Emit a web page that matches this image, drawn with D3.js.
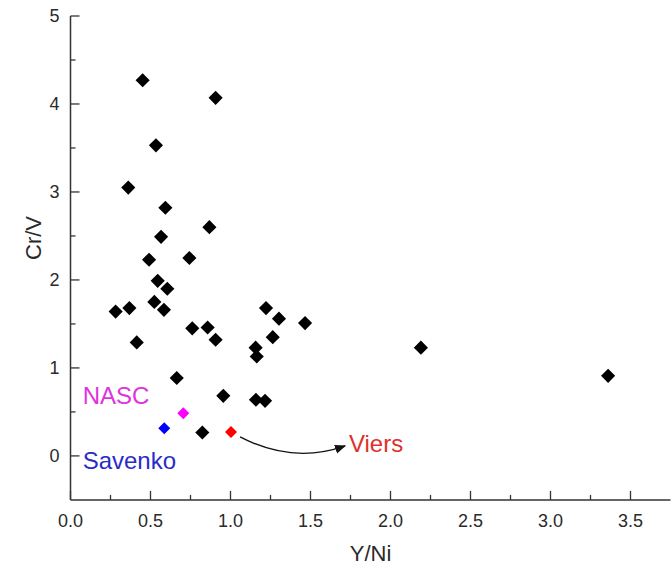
<!DOCTYPE html>
<html>
<head>
<meta charset="utf-8">
<script src="https://cdn.jsdelivr.net/npm/d3@7"></script>
<style>
  html, body { margin: 0; padding: 0; background: #fff; }
  svg { display: block; font-family: "Liberation Sans", Arial, sans-serif; }
</style>
</head>
<body>
<svg id="chart" width="671" height="572"></svg>
<script>
// ---- data ----
const sampleYNi = [0.451, 0.907, 0.534, 0.361, 0.593, 0.868, 0.566, 0.491, 0.743, 0.545,
                   0.605, 0.524, 0.584, 0.282, 0.368, 0.414, 0.761, 0.857, 0.907, 1.222,
                   1.303, 1.466, 1.264, 1.157, 1.164, 0.664, 0.955, 1.159, 1.216, 0.824,
                   2.19, 3.36];
const sampleCrV = [4.27, 4.07, 3.53, 3.05, 2.82, 2.60, 2.49, 2.23, 2.25, 1.99,
                   1.90, 1.75, 1.66, 1.64, 1.68, 1.29, 1.45, 1.46, 1.32, 1.68,
                   1.56, 1.51, 1.35, 1.23, 1.13, 0.885, 0.683, 0.638, 0.626, 0.266,
                   1.23, 0.91];
const refNames = ["NASC", "Savenko", "Viers"];
const refYNi = [0.705, 0.586, 1.003];
const refCrV = [0.486, 0.315, 0.273];
const refColors = ["#ff00ff", "#0000ff", "#ff0000"];
const refTextColors = ["#e033e0", "#2b2bc8", "#e0302c"];
const xTicks = [0, 0.5, 1.0, 1.5, 2.0, 2.5, 3.0, 3.5];
const yTicks = [0, 1, 2, 3, 4, 5];
const xLabel = "Y/Ni";
const yLabel = "Cr/V";

// ---- layout ----
const svg = d3.select("#chart");
const x = d3.scaleLinear().domain([0, 3.75]).range([70.5, 670.5]);
const y = d3.scaleLinear().domain([-0.5, 5]).range([499.9, 16]);

const mainPts = sampleYNi.map((v, i) => ({x: v, y: sampleCrV[i]}));

const axisColor = "#333";

// x axis
const gx = svg.append("g").attr("transform", `translate(0,${y(-0.5)})`);
gx.append("line").attr("x1", x(0)).attr("x2", x(3.75)).attr("stroke", axisColor).attr("stroke-width", 1.5);
const xMinor = d3.range(0.25, 3.75, 0.5);
gx.selectAll(".xmaj").data(xTicks).join("line")
  .attr("x1", d => x(d)).attr("x2", d => x(d)).attr("y1", 0).attr("y2", -9)
  .attr("stroke", axisColor).attr("stroke-width", 1.3);
gx.selectAll(".xmin").data(xMinor).join("line")
  .attr("x1", d => x(d)).attr("x2", d => x(d)).attr("y1", 0).attr("y2", -5)
  .attr("stroke", axisColor).attr("stroke-width", 1.3);
gx.selectAll("text").data(xTicks).join("text")
  .attr("x", d => x(d)).attr("y", 27).attr("text-anchor", "middle")
  .attr("font-size", 18).attr("fill", "#2a2a2a").text(d => d3.format(".1f")(d));

// y axis
const gy = svg.append("g").attr("transform", `translate(${x(0)},0)`);
gy.append("line").attr("y1", y(-0.5)).attr("y2", y(5)).attr("stroke", axisColor).attr("stroke-width", 1.5);
const yMinor = d3.range(-0.5, 5, 1).filter(d => d > -0.5);
gy.selectAll(".ymaj").data(yTicks).join("line")
  .attr("y1", d => y(d)).attr("y2", d => y(d)).attr("x1", 0).attr("x2", 9)
  .attr("stroke", axisColor).attr("stroke-width", 1.3);
gy.selectAll(".ymin").data(yMinor).join("line")
  .attr("y1", d => y(d)).attr("y2", d => y(d)).attr("x1", 0).attr("x2", 5)
  .attr("stroke", axisColor).attr("stroke-width", 1.3);
gy.selectAll("text").data(yTicks).join("text")
  .attr("x", -11).attr("y", d => y(d)).attr("dy", "0.35em").attr("text-anchor", "end")
  .attr("font-size", 18).attr("fill", "#2a2a2a").text(d => d);

// axis titles
svg.append("text").attr("x", (x(0) + x(3.75)) / 2).attr("y", 561).attr("text-anchor", "middle")
  .attr("font-size", 22).attr("fill", "#2a2a2a").text(xLabel);
svg.append("text").attr("transform", `translate(41,238) rotate(-90)`)
  .attr("text-anchor", "middle").attr("font-size", 22).attr("fill", "#2a2a2a").text(yLabel);

// markers
const diamond = (size) => d3.symbol().type(d3.symbolSquare).size(size)();
svg.append("g").selectAll("path").data(mainPts).join("path")
  .attr("d", diamond(100))
  .attr("transform", d => `translate(${x(d.x)},${y(d.y)}) rotate(45)`)
  .attr("fill", "#000");

svg.append("g").selectAll("path").data(refNames).join("path")
  .attr("d", diamond(72))
  .attr("transform", (d, i) => `translate(${x(refYNi[i])},${y(refCrV[i])}) rotate(45)`)
  .attr("fill", (d, i) => refColors[i]);

// labels
const labelPos = [[0.076, 0.69], [0.076, -0.05], [1.74, 0.137]];
svg.append("g").selectAll("text").data(refNames).join("text")
  .attr("x", (d, i) => x(labelPos[i][0])).attr("y", (d, i) => y(labelPos[i][1]))
  .attr("dy", "0.35em").attr("font-size", 24)
  .attr("fill", (d, i) => refTextColors[i]).text(d => d);

// arrow from Viers point to its label
svg.append("defs").append("marker").attr("id", "ah").attr("viewBox", "0 0 10 10")
  .attr("refX", 9).attr("refY", 5).attr("markerWidth", 8).attr("markerHeight", 8)
  .attr("orient", "auto").append("path").attr("d", "M0,1 L10,5 L0,9 Z").attr("fill", "#111");
const p0 = [x(1.06), y(0.216)], c = [x(1.39), y(-0.097)], p1 = [x(1.716), y(0.114)];
const ap = d3.path(); ap.moveTo(...p0); ap.quadraticCurveTo(...c, ...p1);
svg.append("path").attr("d", ap.toString()).attr("fill", "none")
  .attr("stroke", "#111").attr("stroke-width", 1.4).attr("marker-end", "url(#ah)");
</script>
</body>
</html>
